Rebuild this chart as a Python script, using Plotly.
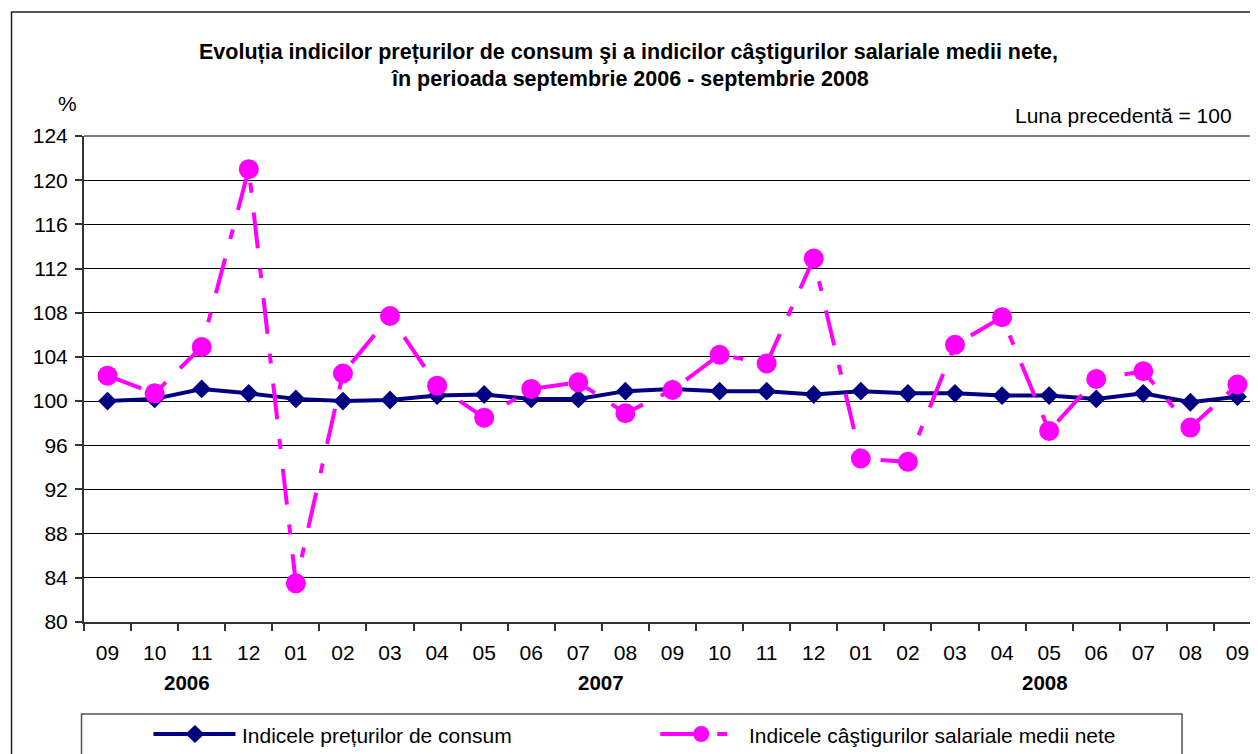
import plotly.graph_objects as go

# ---------------- data ----------------
months = ["09", "10", "11", "12", "01", "02", "03", "04", "05", "06", "07", "08",
          "09", "10", "11", "12", "01", "02", "03", "04", "05", "06", "07", "08", "09"]
years = ["2006", "2007", "2008"]
cpi_index = [100.0, 100.2, 101.1, 100.7, 100.2, 100.0, 100.1, 100.5, 100.6, 100.2, 100.2, 100.9,
             101.1, 100.9, 100.9, 100.6, 100.9, 100.7, 100.7, 100.5, 100.5, 100.2, 100.7, 99.9, 100.4]
wage_index = [102.3, 100.7, 104.9, 121.0, 83.5, 102.5, 107.7, 101.4, 98.5, 101.1, 101.7, 98.9,
              101.0, 104.2, 103.4, 112.9, 94.8, 94.5, 105.1, 107.6, 97.3, 102.0, 102.7, 97.6, 101.5]
y_ticks = list(range(80, 125, 4))
series_names = ["Indicele prețurilor de consum", "Indicele câştigurilor salariale medii nete"]

title_lines = ["Evoluția indicilor prețurilor de consum şi a indicilor câştigurilor salariale medii nete,",
               "în perioada septembrie 2006 - septembrie 2008"]

NAVY = "#000080"
PINK = "#FF00FF"
FONT = "Arial, 'Liberation Sans', sans-serif"

OFF = 8  # page body margin
W, H = 1258 - OFF, 754 - OFF
# plot area in page pixels
PL, PR, PT, PB = 83.5, 1258, 136, 622


def fx(p):
    return (p - PL) / (PR - PL)


def fy(p):
    return (PB - p) / (PB - PT)


xs = list(range(len(months)))

fig = go.Figure()
fig.add_trace(go.Scatter(
    x=xs, y=cpi_index, mode="lines+markers", name=series_names[0],
    line=dict(color=NAVY, width=4),
    marker=dict(symbol="diamond", size=14.5, color=NAVY),
    showlegend=False,
))
fig.add_trace(go.Scatter(
    x=xs, y=wage_index, mode="lines+markers", name=series_names[1],
    line=dict(color=PINK, width=4, dash="36px,20px,10px,20px"),
    marker=dict(symbol="circle", size=20, color=PINK),
    showlegend=False,
))

step = 47.1
x_max = -0.5 + (PR - PL) / step

fig.update_xaxes(
    range=[-0.5, x_max],
    tickvals=xs, ticktext=months,
    ticks="outside", ticklen=7, tickcolor="rgba(0,0,0,0)",
    ticklabelstandoff=4,
    minor=dict(tickvals=[i - 0.5 for i in range(len(months) + 1)],
               ticks="outside", ticklen=7, tickcolor="#333333", tickwidth=1.5, showgrid=False),
    showgrid=False, zeroline=False,
    showline=True, linecolor="#333333", linewidth=2,
    tickfont=dict(family=FONT, size=21, color="black"),
)
fig.update_yaxes(
    range=[80, 124], tickvals=y_ticks,
    ticks="outside", ticklen=7, tickcolor="#333333", tickwidth=1.5,
    ticklabelstandoff=3,
    showgrid=True, gridcolor="black", gridwidth=1, zeroline=False,
    showline=True, linecolor="#333333", linewidth=2,
    tickfont=dict(family=FONT, size=21, color="black"),
)

shapes = []
# outer chart border
shapes.append(dict(type="rect", xref="paper", yref="paper",
                   x0=fx(11), x1=fx(1320), y0=fy(12), y1=fy(820),
                   line=dict(color="#222222", width=1.5)))
# top plot border
shapes.append(dict(type="line", xref="paper", yref="paper",
                   x0=fx(PL), x1=fx(PR + 5), y0=fy(PT), y1=fy(PT),
                   line=dict(color="#808080", width=2)))
# legend box
shapes.append(dict(type="rect", xref="paper", yref="paper",
                   x0=fx(81), x1=fx(1182), y0=fy(714), y1=fy(800),
                   line=dict(color="#555555", width=1.5)))
# legend symbol 1: navy line + diamond
ly = 734
shapes.append(dict(type="line", xref="paper", yref="paper",
                   x0=fx(153), x1=fx(235), y0=fy(ly), y1=fy(ly),
                   line=dict(color=NAVY, width=4)))
shapes.append(dict(type="path", xref="paper", yref="paper",
                   path=f"M {fx(185)},{fy(ly)} L {fx(194.5)},{fy(ly-9)} L {fx(204)},{fy(ly)} L {fx(194.5)},{fy(ly+9)} Z",
                   fillcolor=NAVY, line=dict(color=NAVY, width=0)))
# legend symbol 2: pink dashed line + circle
shapes.append(dict(type="line", xref="paper", yref="paper",
                   x0=fx(660), x1=fx(707), y0=fy(ly), y1=fy(ly),
                   line=dict(color=PINK, width=4)))
shapes.append(dict(type="line", xref="paper", yref="paper",
                   x0=fx(717), x1=fx(727), y0=fy(ly), y1=fy(ly),
                   line=dict(color=PINK, width=4)))
shapes.append(dict(type="circle", xref="paper", yref="paper",
                   x0=fx(693), x1=fx(709), y0=fy(ly - 8), y1=fy(ly + 8),
                   fillcolor=PINK, line=dict(color=PINK, width=0)))

annotations = []


def ann(text, x, y, xanchor="center", size=20, bold=False):
    annotations.append(dict(
        text=f"<b>{text}</b>" if bold else text,
        xref="paper", yref="paper", x=fx(x), y=fy(y),
        xanchor=xanchor, yanchor="middle", showarrow=False,
        font=dict(family=FONT, size=size, color="black"),
    ))


ann(title_lines[0], 628, 52.5, size=21.5, bold=True)
ann(title_lines[1], 630, 78.5, size=21.5, bold=True)
ann("%", 67, 103.5, size=21)
ann("Luna precedentă = 100", 1234, 115.5, xanchor="right", size=21)
ann(years[0], 187, 682, size=20.5, bold=True)
ann(years[1], 600.5, 682, size=20.5, bold=True)
ann(years[2], 1045, 682, size=20.5, bold=True)
ann(series_names[0], 240, 735.5, xanchor="left", size=21)
ann(series_names[1], 747, 735.5, xanchor="left", size=21)

fig.update_layout(
    width=W, height=H,
    margin=dict(l=PL - OFF, r=0, t=PT - OFF, b=H - (PB - OFF), pad=0),
    paper_bgcolor="white", plot_bgcolor="white",
    shapes=shapes, annotations=annotations,
    showlegend=False,
    font=dict(family=FONT, color="black"),
)

fig.write_html("out.html")
